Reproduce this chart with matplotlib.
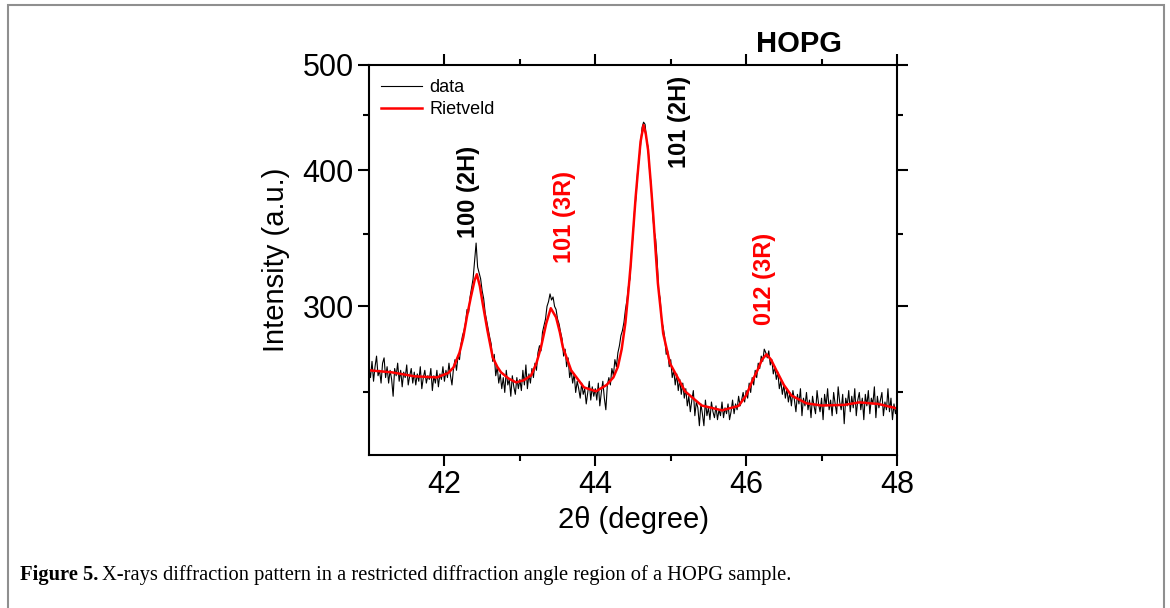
import numpy as np
import matplotlib
matplotlib.use("Agg")
import matplotlib.pyplot as plt
from matplotlib.ticker import FixedLocator, FixedFormatter, NullFormatter
from matplotlib.patches import Rectangle

plt.rcParams['font.family'] = ['Liberation Sans', 'DejaVu Sans']

# measured pattern, 41-48 deg every 0.02 deg
two_theta = np.round(np.arange(41.0, 48.0001, 0.02), 2)
counts = [
    263, 258, 267, 256, 264, 270, 259, 262, 255, 266,
    269, 258, 264, 255, 262, 257, 248, 263, 259, 266,
    256, 262, 253, 261, 258, 265, 254, 259, 263, 255,
    261, 254, 260, 256, 264, 252, 258, 262, 255, 259,
    257, 263, 251, 259, 255, 262, 253, 260, 257, 264,
    256, 262, 258, 266, 259, 254, 263, 268, 262, 270,
    268, 277, 282, 285, 290, 298, 296, 306, 312, 318,
    330, 343, 326, 322, 318, 310, 305, 296, 291, 286,
    281, 277, 267, 271, 259, 264, 255, 260, 252, 258,
    250, 262, 254, 257, 248, 259, 253, 249, 258, 252,
    257, 251, 262, 254, 265, 252, 260, 255, 263, 258,
    266, 262, 272, 276, 273, 284, 288, 292, 300, 303,
    308, 304, 306, 300, 298, 292, 289, 284, 280, 270,
    274, 264, 269, 258, 262, 255, 260, 250, 256, 252,
    247, 255, 249, 252, 244, 250, 256, 246, 253, 248,
    252, 246, 255, 243, 250, 256, 247, 241, 254, 258,
    254, 263, 259, 268, 264, 272, 276, 282, 285, 290,
    298, 304, 313, 318, 336, 349, 367, 378, 398, 409,
    422, 438, 443, 441, 427, 420, 400, 388, 365, 352,
    346, 331, 310, 305, 291, 287, 281, 271, 273, 264,
    268, 258, 262, 254, 260, 251, 257, 249, 255, 247,
    252, 243, 248, 240, 246, 251, 238, 245, 242, 233,
    244, 239, 233, 246, 238, 242, 236, 245, 240, 237,
    243, 236, 241, 238, 245, 237, 242, 239, 244, 236,
    240, 246, 239, 244, 241, 248, 243, 246, 250, 245,
    251, 247, 255, 250, 258, 254, 262, 258, 266, 263,
    270, 267, 274, 272, 269, 273, 265, 268, 260, 264,
    257, 261, 252, 256, 249, 254, 247, 252, 245, 250,
    243, 251, 246, 240, 249, 244, 252, 238, 247, 243,
    250, 241, 246, 237, 248, 243, 239, 251, 244, 240,
    247, 236, 249, 243, 252, 241, 246, 238, 250, 244,
    239, 253, 245, 241, 249, 234, 247, 243, 251, 240,
    248, 242, 252, 238, 246, 250, 241, 247, 236, 249,
    243, 251, 239, 247, 244, 253, 237, 248, 242, 246,
    250, 238, 245, 241, 252, 240, 247, 236, 244, 239,
    243,
]

# Rietveld fit
fit_x = [41.0, 41.3, 41.6, 41.9, 42.05, 42.12, 42.2, 42.25, 42.3, 42.35,
         42.4, 42.43, 42.47, 42.5, 42.57, 42.64, 42.7, 42.75, 42.85, 42.95,
         43.05, 43.15, 43.22, 43.28, 43.35, 43.41, 43.48, 43.53, 43.57, 43.68,
         43.85, 44.01, 44.15, 44.24, 44.3, 44.35, 44.4, 44.44, 44.47, 44.5,
         44.535, 44.57, 44.6, 44.64, 44.67, 44.7, 44.735, 44.77, 44.8, 44.83,
         44.9, 44.99, 45.19, 45.41, 45.68, 45.9, 46.0, 46.08, 46.15, 46.21,
         46.27, 46.33, 46.4, 46.5, 46.6, 46.8, 47.0, 47.3, 47.5, 47.75, 48.0]
fit_y = [262.0, 260.9, 258.7, 258.1, 260.5, 263.6, 272, 280.9, 294, 305.8,
         317, 321.1, 313, 303.9, 285.1, 269.3, 264, 260.9, 257.5, 255.4,
         256.5, 259.2, 266, 275.1, 289.4, 298.8, 293.1, 284, 275.1, 262.0,
         252.7, 250.6, 254, 258.1, 264, 274, 290, 310.4, 328, 350.2,
         378, 402.8, 425, 440.3, 432, 417.6, 390, 362.3, 337, 315.0,
         283.3, 265.9, 250.6, 243.2, 240.7, 243, 248.4, 256, 262, 268,
         271.0, 268, 262, 254, 248.4, 244.3, 243.2, 243.5, 244.8, 244, 241.7]

peak_labels = ["100 (2H)", "101 (3R)", "101 (2H)", "012 (3R)"]
peak_x = [42.32, 43.59, 45.12, 46.25]
peak_y = [346.5, 328.7, 401.9, 288.2]
peak_colors = ["black", "red", "black", "red"]

fig = plt.figure(figsize=(11.7, 6.08), dpi=100)
ax = fig.add_axes([369 / 1170, 1 - 455 / 608, 528 / 1170, 390 / 608])

ax.plot(two_theta, counts, color="black", lw=0.8, label="data")
ax.plot(fit_x, fit_y, color="red", lw=1.8, label="Rietveld")

ax.set_xlim(41, 48)
ax.set_yscale("log")
ax.set_ylim(219, 500)
ax.set_xticks([42, 44, 46, 48])
ax.set_xticks([43, 45, 47], minor=True)
ax.yaxis.set_major_locator(FixedLocator([300, 400, 500]))
ax.yaxis.set_major_formatter(FixedFormatter(["300", "400", "500"]))
ax.yaxis.set_minor_locator(FixedLocator([250, 350, 450]))
ax.yaxis.set_minor_formatter(NullFormatter())

for s in ax.spines.values():
    s.set_linewidth(1.5)
ax.tick_params(which="both", direction="out", top=True, right=True, width=1.5)
ax.tick_params(which="major", length=8, labelsize=22, pad=3)
ax.tick_params(which="minor", length=4)

ax.set_xlabel("2θ (degree)", fontsize=21, labelpad=4)
ax.set_ylabel("Intensity (a.u.)", fontsize=21, labelpad=9)

for lab, px, py, c in zip(peak_labels, peak_x, peak_y, peak_colors):
    ax.text(px, py, lab, rotation=90, ha="center", va="bottom",
            color=c, fontsize=17, fontweight="bold")

ax.legend(loc="upper left", frameon=False, fontsize=13, handlelength=2.3,
          handletextpad=0.4, labelspacing=0.25, borderaxespad=0.4,
          bbox_to_anchor=(-0.005, 1.0))

fig.text(799 / 1170, 1 - 44 / 608, "HOPG", ha="center", va="center",
         fontsize=21, fontweight="bold")

# page frame and caption
fig.patches.append(Rectangle((8 / 1170, -0.1), 1156 / 1170, 0.1 + 603 / 608,
                             transform=fig.transFigure, fill=False,
                             edgecolor="#8f8f8f", lw=1.5))
t1 = fig.text(20 / 1170, 1 - 580 / 608, "Figure 5.", fontsize=14.8,
              fontweight="bold", family="Liberation Serif", va="baseline")
fig.canvas.draw()
bb = t1.get_window_extent()
fig.text(bb.x1 / 1170 + 4 / 1170, 1 - 580 / 608,
         "X-rays diffraction pattern in a restricted diffraction angle region of a HOPG sample.",
         fontsize=14.8, family="Liberation Serif", va="baseline")

fig.savefig("out.png", dpi=100)
